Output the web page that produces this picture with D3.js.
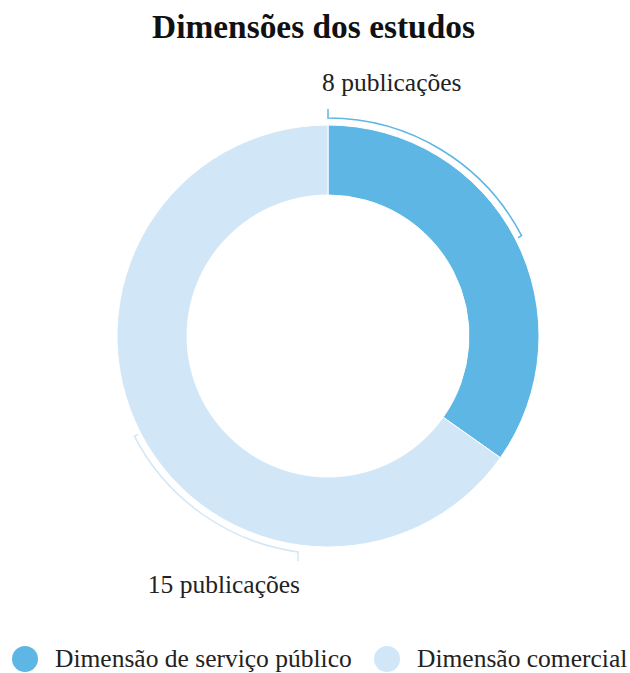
<!DOCTYPE html>
<html><head><meta charset="utf-8">
<script src="https://cdn.jsdelivr.net/npm/d3@7/dist/d3.min.js"></script>
<style>
html,body{margin:0;padding:0;background:#fff;}
svg{display:block;font-family:"Liberation Serif","Times New Roman",serif;}
</style></head>
<body>
<svg id="chart" width="630" height="673"></svg>
<script>
const title = "Dimensões dos estudos";
const categories = ["Dimensão de serviço público", "Dimensão comercial"];
const values = [8, 15];
const colors = ["#5eb6e4", "#d1e6f6"];
const unit = "publicações";

const svg = d3.select("#chart");
const cx = 328, cy = 336, rOuter = 211, rInner = 141, rLine = 218;

svg.append("text").attr("x", 313.5).attr("y", 38).attr("text-anchor", "middle")
  .attr("font-size", 33.4).attr("font-weight", "bold").attr("fill", "#111").text(title);

const data = categories.map((c, i) => ({cat: c, value: values[i], color: colors[i]}));
const pie = d3.pie().value(d => d.value).sort(null);
const arcs = pie(data);
const arcGen = d3.arc().innerRadius(rInner).outerRadius(rOuter);

const g = svg.append("g").attr("transform", `translate(${cx},${cy})`);
g.selectAll("path.slice").data(arcs).join("path").attr("class", "slice")
  .attr("d", arcGen).attr("fill", d => d.data.color)
  .attr("stroke", "#fff").attr("stroke-width", 1);

// label positions (layout)
const labelLayout = [
  {x: 322, y: 91, anchor: "start", tickX: 0, outDir: -1},
  {x: 300, y: 593, anchor: "end", tickX: -30, outDir: 1}
];

const pt = (a, r) => [r * Math.sin(a), -r * Math.cos(a)];
arcs.forEach((d, i) => {
  const L = labelLayout[i];
  const mid = (d.startAngle + d.endAngle) / 2;
  let a0 = Math.asin(L.tickX / rLine);
  if (L.outDir > 0) a0 = Math.PI - a0;
  const p0 = pt(a0, rLine);
  const tick0 = [p0[0], p0[1] + L.outDir * 9];
  const p1i = pt(mid, rLine - 4);
  const path = d3.path();
  path.moveTo(tick0[0], tick0[1]);
  path.lineTo(p0[0], p0[1]);
  const sa = a0 - Math.PI / 2, ea = mid - Math.PI / 2;
  path.arc(0, 0, rLine, sa, ea, ea < sa);
  path.lineTo(p1i[0], p1i[1]);
  g.append("path").attr("d", path.toString()).attr("fill", "none")
    .attr("stroke", d.data.color).attr("stroke-width", 1.5);
  svg.append("text").attr("x", L.x).attr("y", L.y).attr("text-anchor", L.anchor)
    .attr("font-size", 25.5).attr("fill", "#222").text(d.data.value + " " + unit);
});

// legend
const legend = svg.append("g");
const legX = [25, 387];
data.forEach((d, i) => {
  legend.append("circle").attr("cx", legX[i]).attr("cy", 659).attr("r", 13).attr("fill", d.color);
  legend.append("text").attr("x", legX[i] + 30).attr("y", 667).attr("font-size", 25.5)
    .attr("fill", "#222").text(d.cat);
});
</script>
</body></html>
